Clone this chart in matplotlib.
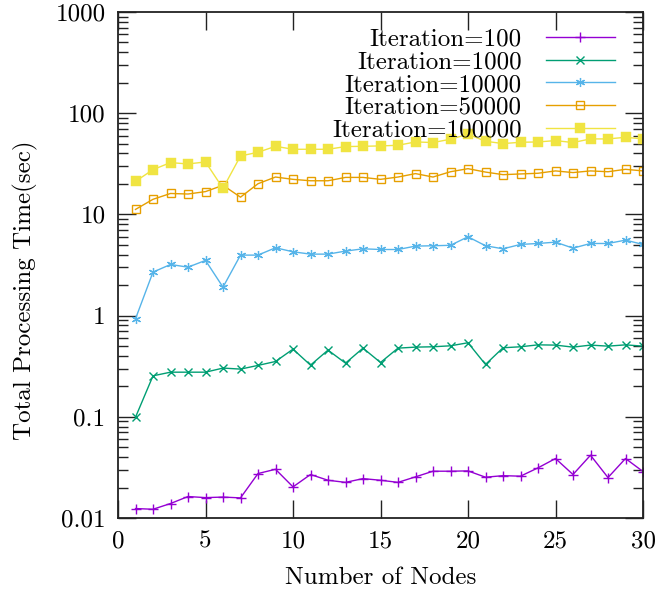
import numpy as np
import matplotlib
matplotlib.use("Agg")
import matplotlib.pyplot as plt
from matplotlib.ticker import FixedLocator, FixedFormatter, LogLocator, NullFormatter

nodes = list(range(1, 31))

iter_100 = [0.0124, 0.0122, 0.0139, 0.0163, 0.0159, 0.0161, 0.0158, 0.0275, 0.0303, 0.0203,
            0.0269, 0.0236, 0.0225, 0.0245, 0.0236, 0.0225, 0.0255, 0.0290, 0.0290, 0.0292,
            0.0253, 0.0262, 0.0259, 0.0313, 0.0387, 0.0269, 0.0417, 0.0251, 0.0387, 0.0288]
iter_1000 = [0.099, 0.254, 0.276, 0.276, 0.276, 0.303, 0.296, 0.322, 0.352, 0.466,
             0.324, 0.456, 0.339, 0.477, 0.344, 0.477, 0.488, 0.492, 0.503, 0.539,
             0.329, 0.481, 0.492, 0.514, 0.511, 0.488, 0.511, 0.499, 0.514, 0.499]
iter_10000 = [0.93, 2.69, 3.20, 3.01, 3.51, 1.91, 3.96, 3.96, 4.68, 4.27,
              4.05, 4.05, 4.34, 4.57, 4.50, 4.50, 4.86, 4.90, 4.95, 6.01,
              4.90, 4.57, 5.05, 5.16, 5.32, 4.64, 5.16, 5.16, 5.57, 5.05]
iter_50000 = [11.2, 14.1, 16.1, 15.9, 16.8, 19.4, 14.8, 20.1, 23.4, 22.2,
              21.5, 21.5, 23.2, 23.2, 22.2, 23.4, 25.3, 23.4, 26.4, 28.3,
              26.2, 24.7, 25.1, 25.5, 26.9, 25.9, 26.9, 26.4, 27.9, 26.9]
iter_100000 = [21.2, 27.7, 32.5, 31.5, 33.0, 18.1, 37.8, 41.1, 47.1, 44.0,
               44.0, 44.0, 46.8, 47.1, 47.5, 48.2, 52.0, 51.3, 55.3, 62.0,
               52.8, 50.1, 51.6, 52.0, 53.6, 51.3, 55.7, 55.7, 57.8, 55.7]

labels = ["Iteration=100", "Iteration=1000", "Iteration=10000",
          "Iteration=50000", "Iteration=100000"]
colors = ["#9400d3", "#009e73", "#56b4e9", "#e69f00", "#f0e442"]

yticks = [0.01, 0.1, 1, 10, 100, 1000]
ytick_labels = ["0.01", "0.1", "1", "10", "100", "1000"]
xticks = [0, 5, 10, 15, 20, 25, 30]

plt.rcParams['font.family'] = ['cmr10', 'DejaVu Serif']
plt.rcParams['axes.formatter.use_mathtext'] = True
plt.rcParams['mathtext.fontset'] = 'cm'

FS = 18

fig = plt.figure(figsize=(6.55, 5.92), dpi=100)
ax = fig.add_axes([118/655, 1 - 518/592, (643-118)/655, (518-12)/592])

series = [iter_100, iter_1000, iter_10000, iter_50000, iter_100000]
styles = [
    dict(marker='+', markersize=6.5, markeredgewidth=1.0),
    dict(marker='x', markersize=5.5, markeredgewidth=1.0),
    dict(marker=(6, 2, 0), markersize=6.5, markeredgewidth=0.9),
    dict(marker='s', markersize=6.3, markerfacecolor='none', markeredgewidth=1.0),
    dict(marker='s', markersize=6.7, markeredgewidth=0.3),
]
for s, lab, c, st in zip(series, labels, colors, styles):
    ax.plot(nodes, s, color=c, lw=1.0, label=lab, **st)

ax.set_yscale('log')
ax.set_xlim(0, 30)
ax.set_ylim(0.01, 1000)
ax.yaxis.set_major_locator(FixedLocator(yticks))
ax.yaxis.set_major_formatter(FixedFormatter(ytick_labels))
ax.yaxis.set_minor_locator(LogLocator(base=10, subs=np.arange(2, 10)))
ax.yaxis.set_minor_formatter(NullFormatter())
ax.set_xticks(xticks)
ax.set_xticklabels([str(v) for v in xticks])

ax.tick_params(which='both', direction='in', top=True, right=True, labelsize=FS,
               color='#222222', width=1.0)
ax.tick_params(which='major', length=13, pad=9)
ax.tick_params(which='minor', length=7)
for sp in ax.spines.values():
    sp.set_linewidth(1.3)
    sp.set_color('#222222')

ax.set_xlabel("Number of Nodes", fontsize=FS, labelpad=10)
ax.set_ylabel("Total Processing Time(sec)", fontsize=FS, va='center')
ax.yaxis.set_label_coords(-0.177, 0.45)

leg = ax.legend(loc='upper right', bbox_to_anchor=(0.9467, 0.968), frameon=False,
                markerfirst=False, fontsize=FS, handlelength=2.77, handletextpad=0.96,
                labelspacing=0.01, borderpad=0, borderaxespad=0)

fig.savefig("out.png", dpi=100)
